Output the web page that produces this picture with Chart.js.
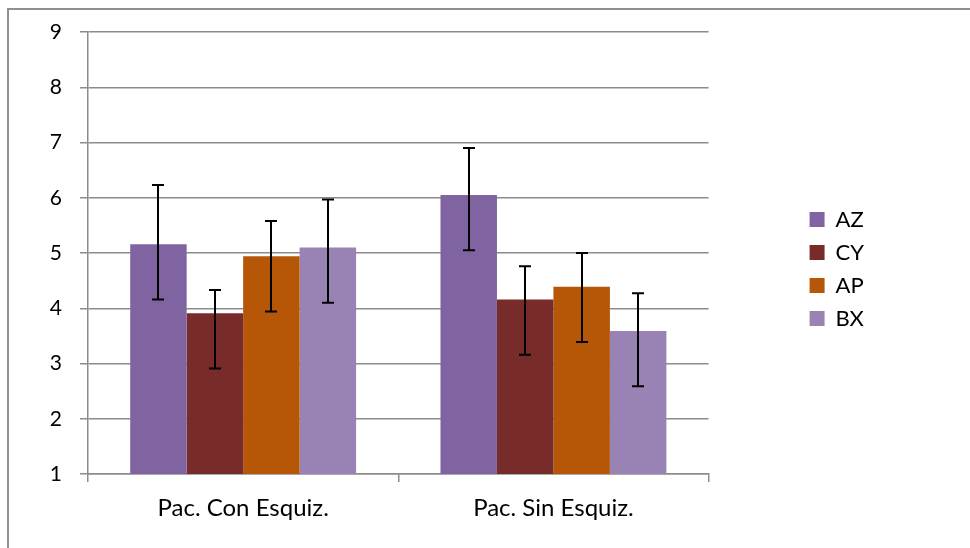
<!DOCTYPE html>
<html>
<head>
<meta charset="utf-8">
<script src="https://cdn.jsdelivr.net/npm/chart.js@4"></script>
<style>
  html, body { margin: 0; padding: 0; background: #fff; }
  #wrap { position: relative; width: 970px; height: 548px; overflow: hidden; }
  #frame { position: absolute; left: 7px; top: 8px; width: 1000px; height: 600px;
           border-left: 2px solid #8f8f8f; border-top: 2px solid #8f8f8f; }
  canvas { position: absolute; left: 0; top: 0; }
</style>
</head>
<body>
<div id="wrap">
  <div id="frame"></div>
  <canvas id="chart" width="970" height="548"></canvas>
</div>
<script>
// --- data ---
const categories = ['Pac. Con Esquiz.', 'Pac. Sin Esquiz.'];
const seriesNames = ['AZ', 'CY', 'AP', 'BX'];

const azValues = [5.16, 6.05];
const cyValues = [3.91, 4.16];
const apValues = [4.94, 4.39];
const bxValues = [5.10, 3.59];

// error bars (upper / lower length)
const azErrPlus = [1.07, 0.85];
const cyErrPlus = [0.42, 0.60];
const apErrPlus = [0.64, 0.61];
const bxErrPlus = [0.87, 0.68];
const azErrMinus = [1.0, 1.0];
const cyErrMinus = [1.0, 1.0];
const apErrMinus = [1.0, 1.0];
const bxErrMinus = [1.0, 1.0];

const yMin = 1;
const yMax = 9;

const colors = {
  az: '#8064A2',
  cy: '#772C2A',
  ap: '#B65708',
  bx: '#9983B5',
  grid: '#8c8c8c',
};

const FONT = 'Lato';

function bars(label, data, color, errPlus, errMinus) {
  return {
    label,
    data,
    backgroundColor: color,
    borderWidth: 0,
    errPlus,
    errMinus,
  };
}

// draws the whisker for each bar from the dataset's errPlus / errMinus
const errorBars = {
  id: 'errorBars',
  afterDatasetsDraw(chart) {
    const { ctx } = chart;
    const y = chart.scales.y;
    ctx.save();
    ctx.strokeStyle = '#000';
    ctx.lineWidth = 2;
    chart.data.datasets.forEach((ds, di) => {
      const meta = chart.getDatasetMeta(di);
      if (meta.hidden) return;
      meta.data.forEach((bar, i) => {
        const v = ds.data[i];
        const top = y.getPixelForValue(v + ds.errPlus[i]);
        const bot = y.getPixelForValue(v - ds.errMinus[i]);
        const x = Math.round(bar.x);
        ctx.beginPath();
        ctx.moveTo(x, top);
        ctx.lineTo(x, bot);
        ctx.moveTo(x - 6, top);
        ctx.lineTo(x + 6, top);
        ctx.moveTo(x - 6, bot);
        ctx.lineTo(x + 6, bot);
        ctx.stroke();
      });
    });
    ctx.restore();
  }
};

Chart.defaults.font.family = FONT;
Chart.defaults.color = '#000';

new Chart(document.getElementById('chart'), {
  type: 'bar',
  data: {
    labels: categories,
    datasets: [
      bars(seriesNames[0], azValues, colors.az, azErrPlus, azErrMinus),
      bars(seriesNames[1], cyValues, colors.cy, cyErrPlus, cyErrMinus),
      bars(seriesNames[2], apValues, colors.ap, apErrPlus, apErrMinus),
      bars(seriesNames[3], bxValues, colors.bx, bxErrPlus, bxErrMinus),
    ]
  },
  options: {
    responsive: false,
    animation: false,
    barPercentage: 1,
    categoryPercentage: 0.728,
    layout: { padding: { top: 0, right: 96, bottom: 10, left: 0 } },
    plugins: {
      tooltip: { enabled: false },
      legend: {
        position: 'right',
        labels: {
          boxWidth: 15,
          boxHeight: 15,
          padding: 11,
          color: '#000',
          font: { family: FONT, size: 22 },
        }
      }
    },
    scales: {
      x: {
        grid: {
          drawOnChartArea: false,
          drawTicks: true,
          tickLength: 8,
          color: colors.grid,
          lineWidth: 1.5,
        },
        border: { color: colors.grid, width: 1.5 },
        ticks: { padding: 12, color: '#000', font: { family: FONT, size: 24 } },
        afterFit(a) { a.height = 64; },
      },
      topGap: {
        type: 'category',
        position: 'top',
        grid: { display: false },
        ticks: { display: false },
        border: { display: false },
        afterFit(a) { a.height = 32; },
      },
      y: {
        min: yMin,
        max: yMax,
        ticks: { stepSize: 1, padding: 18, color: '#000', font: { family: FONT, size: 21 } },
        grid: { color: colors.grid, lineWidth: 1.5, tickLength: 8 },
        border: { color: colors.grid, width: 1.5 },
        afterFit(a) { a.width = 88; },
      },
      gap: {
        type: 'linear',
        position: 'right',
        grid: { display: false },
        ticks: { display: false },
        border: { display: false },
        afterFit(a) { a.width = 90; },
      }
    }
  },
  plugins: [errorBars]
});
</script>
</body>
</html>
